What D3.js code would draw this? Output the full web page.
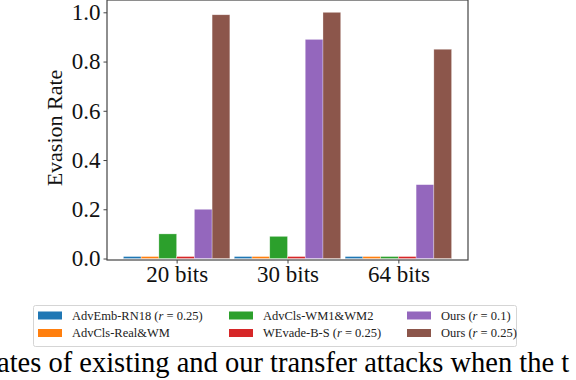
<!DOCTYPE html>
<html>
<head>
<meta charset="utf-8">
<script src="https://cdn.jsdelivr.net/npm/d3@7"></script>
<style>
  body { margin: 0; background: #fff; }
  svg, svg text { font-family: "Liberation Serif", "DejaVu Serif", serif; }
</style>
</head>
<body>
<script>
// data
var groups = ["20 bits", "30 bits", "64 bits"];
var seriesNames = [
  ["AdvEmb-RN18 (", "r", " = 0.25)"],
  ["AdvCls-Real&WM"],
  ["AdvCls-WM1&WM2"],
  ["WEvade-B-S (", "r", " = 0.25)"],
  ["Ours (", "r", " = 0.1)"],
  ["Ours (", "r", " = 0.25)"]
];
var colors = ["#1f77b4", "#ff7f0e", "#2ca02c", "#d62728", "#9467bd", "#8c564b"];
var advEmb = [0.008, 0.008, 0.008];
var advClsReal = [0.008, 0.008, 0.008];
var advClsWM = [0.10, 0.09, 0.008];
var wevade = [0.008, 0.008, 0.008];
var ours01 = [0.20, 0.89, 0.30];
var ours025 = [0.99, 1.00, 0.85];
var series = [advEmb, advClsReal, advClsWM, wevade, ours01, ours025];
var yTicks = [0, 0.2, 0.4, 0.6, 0.8, 1.0];

var W = 576, H = 380;
var margin = { top: 0, left: 107, right: 108, bottom: 120 };
var width = W - margin.left - margin.right,
  height = 260 - margin.top;

var svg = d3.select("body").append("svg")
  .attr("width", W)
  .attr("height", H);

var g = svg.append("g")
  .attr("transform", "translate(" + margin.left + "," + margin.top + ")");

// scales (matplotlib-like: bar width 0.16, group width 0.96)
var barW = 0.16;
var x = d3.scaleLinear().domain([-0.628, 2.628]).range([0, width]);
var y = d3.scaleLinear().domain([-0.006, 1.05]).range([height, 0]);

series.forEach(function (vals, s) {
  g.selectAll(".bar" + s)
    .data(vals)
    .enter().append("rect")
    .attr("x", function (d, i) { return x(i - 0.48 + s * barW); })
    .attr("width", x(barW) - x(0))
    .attr("y", function (d) { return y(d); })
    .attr("height", function (d) { return y(0) - y(d); })
    .attr("fill", colors[s])
    .attr("stroke", "rgba(255,255,255,0.5)")
    .attr("stroke-width", 0.6);
});

// frame
g.append("rect")
  .attr("x", 0).attr("y", 0)
  .attr("width", width).attr("height", height)
  .attr("fill", "none")
  .attr("stroke", "#444")
  .attr("stroke-width", 1.2);

// y axis
var yAxis = g.append("g")
  .call(d3.axisLeft(y).tickValues(yTicks).tickFormat(d3.format(".1f")).tickSizeOuter(0).tickSize(3.5).tickPadding(3));
yAxis.attr("font-family", null).attr("font-size", null);
yAxis.select(".domain").remove();
yAxis.selectAll("line").attr("stroke", "#444");
yAxis.selectAll("text").style("font-size", "23px").attr("fill", "#111");

// x axis
var xAxis = g.append("g")
  .attr("transform", "translate(0," + height + ")")
  .call(d3.axisBottom(x).tickValues([0, 1, 2]).tickFormat(function (d) { return groups[d]; }).tickSizeOuter(0).tickSize(3.5).tickPadding(2));
xAxis.attr("font-family", null).attr("font-size", null);
xAxis.select(".domain").remove();
xAxis.selectAll("line").attr("stroke", "#444");
xAxis.selectAll("text").style("font-size", "23px").attr("fill", "#111");

// y label
svg.append("text")
  .attr("transform", "translate(62,128) rotate(-90)")
  .attr("text-anchor", "middle")
  .attr("font-size", 22)
  .attr("fill", "#111")
  .text("Evasion Rate");

// legend
var legend = svg.append("g");
legend.append("rect")
  .attr("x", 33.5).attr("y", 305.5)
  .attr("width", 483).attr("height", 41)
  .attr("rx", 2)
  .attr("fill", "#fff")
  .attr("stroke", "#d5d5d5");

var colX = [38, 229, 407];
var rowY = [315.5, 333];
seriesNames.forEach(function (name, i) {
  var cx = colX[Math.floor(i / 2)], cy = rowY[i % 2];
  legend.append("rect")
    .attr("x", cx).attr("y", cy - 4)
    .attr("width", 24).attr("height", 8)
    .attr("fill", colors[i]);
  var t = legend.append("text")
    .attr("x", cx + 34).attr("y", cy + 4)
    .attr("font-size", 12.5)
    .attr("fill", "#222");
  name.forEach(function (part) {
    t.append("tspan")
      .attr("font-style", part === "r" ? "italic" : "normal")
      .text(part);
  });
});

// caption fragment below the figure
svg.append("text")
  .attr("x", -3).attr("y", 372)
  .attr("font-size", 28.5)
  .attr("fill", "#000")
  .text("ates of existing and our transfer attacks when the t");
</script>
</body>
</html>
